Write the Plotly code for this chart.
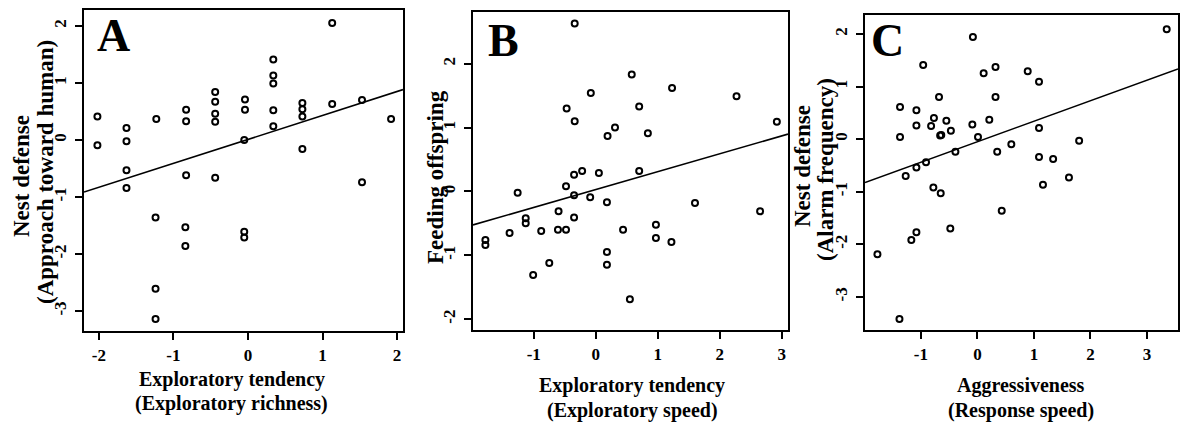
import plotly.graph_objects as go

W, H = 1182, 425

# ---------------- data ----------------
# Panel A: Exploratory richness vs approach toward human
a_x = [-2.02, -2.02, -1.63, -1.63, -1.63, -1.63, -1.23, -1.24, -1.24, -1.24,
       -0.83, -0.83, -0.83, -0.84, -0.84, -0.44, -0.44, -0.44, -0.44, -0.44,
       -0.04, -0.04, -0.05, -0.05, -0.05, 0.34, 0.34, 0.34, 0.34, 0.34,
       0.73, 0.73, 0.73, 0.73, 1.13, 1.13, 1.53, 1.53, 1.92]
a_y = [0.41, -0.09, 0.21, -0.02, -0.53, -0.84, 0.37, -1.36, -2.61, -3.14,
       0.53, 0.33, -0.62, -1.53, -1.86, 0.84, 0.67, 0.46, 0.32, -0.66,
       0.71, 0.53, 0.00, -1.61, -1.71, 1.41, 1.13, 0.99, 0.52, 0.24,
       0.65, 0.54, 0.41, -0.16, 2.05, 0.63, 0.70, -0.74, 0.37]
a_fit = (0.01, 0.42)  # intercept, slope

# Panel B: Exploratory speed vs feeding offspring
b_x = [-0.34, 0.58, -0.08, 1.23, 2.27, -0.47, 0.70, -0.34, 0.31, 0.19,
       0.84, 2.92, -0.22, -0.35, 0.05, 0.70, -0.48, -1.26, -0.35, -0.09,
       0.18, 1.60, 2.65, -0.60, -1.13, -1.13, -0.35, -1.39, -0.88, -0.61,
       -0.48, 0.44, 0.97, 0.97, 1.22, -1.78, -1.78, 0.18, 0.18, -0.75,
       -1.01, 0.55]
b_y = [2.63, 1.83, 1.54, 1.62, 1.49, 1.30, 1.33, 1.10, 1.00, 0.87,
       0.91, 1.09, 0.32, 0.26, 0.29, 0.32, 0.08, -0.02, -0.06, -0.09,
       -0.17, -0.18, -0.31, -0.31, -0.42, -0.50, -0.41, -0.65, -0.62, -0.60,
       -0.60, -0.60, -0.52, -0.73, -0.79, -0.76, -0.84, -0.95, -1.15, -1.12,
       -1.31, -1.69]
b_fit = (0.03, 0.28)

# Panel C: Response speed vs alarm frequency
c_x = [3.35, -0.08, -0.96, 0.32, 0.11, 0.89, 1.09, -0.68, 0.32, -1.37,
       -1.08, -0.77, -0.55, 0.21, -1.08, -0.82, -0.09, -0.47, 1.09, -0.66,
       -0.64, -1.37, 0.01, 0.60, 1.80, 0.35, -0.39, -0.91, -1.08, -1.27,
       1.09, 1.34, 1.62, 1.16, -0.78, -0.65, 0.43, -0.48, -1.08, -1.17,
       -1.77, -1.38]
c_y = [2.09, 1.94, 1.41, 1.37, 1.25, 1.29, 1.09, 0.80, 0.80, 0.61,
       0.55, 0.40, 0.35, 0.37, 0.26, 0.25, 0.28, 0.16, 0.21, 0.07,
       0.08, 0.04, 0.04, -0.10, -0.03, -0.24, -0.24, -0.44, -0.54, -0.70,
       -0.34, -0.38, -0.73, -0.87, -0.92, -1.03, -1.36, -1.70, -1.77, -1.92,
       -2.19, -3.42]
c_fit = (-0.05, 0.39)

# tick values / labels
a_xticks = [-2, -1, 0, 1, 2]
a_yticks = [2, 1, 0, -1, -2, -3]
b_xticks = [-1, 0, 1, 2, 3]
b_yticks = [2, 1, 0, -1, -2]
c_xticks = [-1, 0, 1, 2, 3]
c_yticks = [2, 1, 0, -1, -2, -3]

a_xrange, a_yrange = [-2.2, 2.08], [-3.35, 2.28]
b_xrange, b_yrange = [-1.98, 3.10], [-2.17, 2.81]
c_xrange, c_yrange = [-1.99, 3.55], [-3.63, 2.36]

letters = ["A", "B", "C"]
x_titles = [["Exploratory tendency", "(Exploratory richness)"],
            ["Exploratory tendency", "(Exploratory speed)"],
            ["Aggressiveness", "(Response speed)"]]
y_titles = [["Nest defense", "(Approach toward human)"],
            ["Feeding offspring"],
            ["Nest defense", "(Alarm frequency)"]]

# ---------------- layout helpers ----------------
def px(p):
    return p / W

def py(p):
    return 1 - p / H

SERIF = "Liberation Serif"

panels = [
    dict(x=a_x, y=a_y, fit=a_fit, xr=a_xrange, yr=a_yrange, xt=a_xticks, yt=a_yticks,
         dom_x=(84, 403), dom_y=(10, 331)),
    dict(x=b_x, y=b_y, fit=b_fit, xr=b_xrange, yr=b_yrange, xt=b_xticks, yt=b_yticks,
         dom_x=(473, 788), dom_y=(12, 330)),
    dict(x=c_x, y=c_y, fit=c_fit, xr=c_xrange, yr=c_yrange, xt=c_xticks, yt=c_yticks,
         dom_x=(865, 1178), dom_y=(15, 330)),
]

fig = go.Figure()
layout = dict(
    width=W, height=H,
    margin=dict(l=0, r=0, t=0, b=0),
    paper_bgcolor="white", plot_bgcolor="white",
    showlegend=False,
)

for i, p in enumerate(panels):
    sx = "" if i == 0 else str(i + 1)
    xa, ya = "x" + sx, "y" + sx
    fig.add_trace(go.Scatter(
        x=p["x"], y=p["y"], mode="markers", xaxis=xa, yaxis=ya,
        marker=dict(symbol="circle-open", size=6, color="black",
                    line=dict(width=2, color="black")),
        hoverinfo="skip"))
    b0, b1 = p["fit"]
    lx = [p["xr"][0], p["xr"][1]]
    fig.add_trace(go.Scatter(
        x=lx, y=[b0 + b1 * v for v in lx], mode="lines", xaxis=xa, yaxis=ya,
        line=dict(color="black", width=1.6), hoverinfo="skip"))

    common = dict(showgrid=False, zeroline=False, showline=True, mirror=True,
                  linecolor="black", linewidth=2, ticks="outside", ticklen=7,
                  tickwidth=1.5, tickcolor="black",
                  tickfont=dict(family=SERIF, size=17, color="black"))
    layout["xaxis" + sx] = dict(
        common, domain=[px(p["dom_x"][0]), px(p["dom_x"][1])], range=p["xr"],
        tickvals=p["xt"], ticktext=["<b>%d</b>" % v for v in p["xt"]],
        anchor=ya, ticklabelstandoff=1)
    layout["yaxis" + sx] = dict(
        common, domain=[py(p["dom_y"][1]), py(p["dom_y"][0])], range=p["yr"],
        tickvals=p["yt"], ticktext=["<b>%d</b>" % v for v in p["yt"]],
        anchor=xa, tickangle=-90, ticklabelstandoff=2)

fig.update_layout(**layout)

ann = []
# panel letters
letter_pos = [(95, 35), (486, 40), (869, 41)]
for L, (lx_, ly_) in zip(letters, letter_pos):
    ann.append(dict(x=px(lx_), y=py(ly_), xref="paper", yref="paper", text="<b>%s</b>" % L,
                    showarrow=False, xanchor="left", yanchor="middle",
                    font=dict(family=SERIF, size=46, color="black")))

# x-axis titles (two lines)
x_title_pos = [(232, 379, 403), (632, 385, 410), (1021, 385, 410)]
for lines, (cx, y1, y2) in zip(x_titles, x_title_pos):
    for t, yy in zip(lines, (y1, y2)):
        ann.append(dict(x=px(cx), y=py(yy), xref="paper", yref="paper", text="<b>%s</b>" % t,
                        showarrow=False, xanchor="center", yanchor="middle",
                        font=dict(family=SERIF, size=20, color="black")))

# y-axis titles (rotated)
y_title_pos = [[(22, 176), (45, 172)], [(435, 177)], [(802, 166), (825, 170)]]
for lines, poss in zip(y_titles, y_title_pos):
    for t, (cx, cy) in zip(lines, poss):
        ann.append(dict(x=px(cx), y=py(cy), xref="paper", yref="paper", text="<b>%s</b>" % t,
                        showarrow=False, xanchor="center", yanchor="middle",
                        textangle=-90,
                        font=dict(family=SERIF, size=23, color="black")))

fig.update_layout(annotations=ann)
fig.write_html("out.html")
